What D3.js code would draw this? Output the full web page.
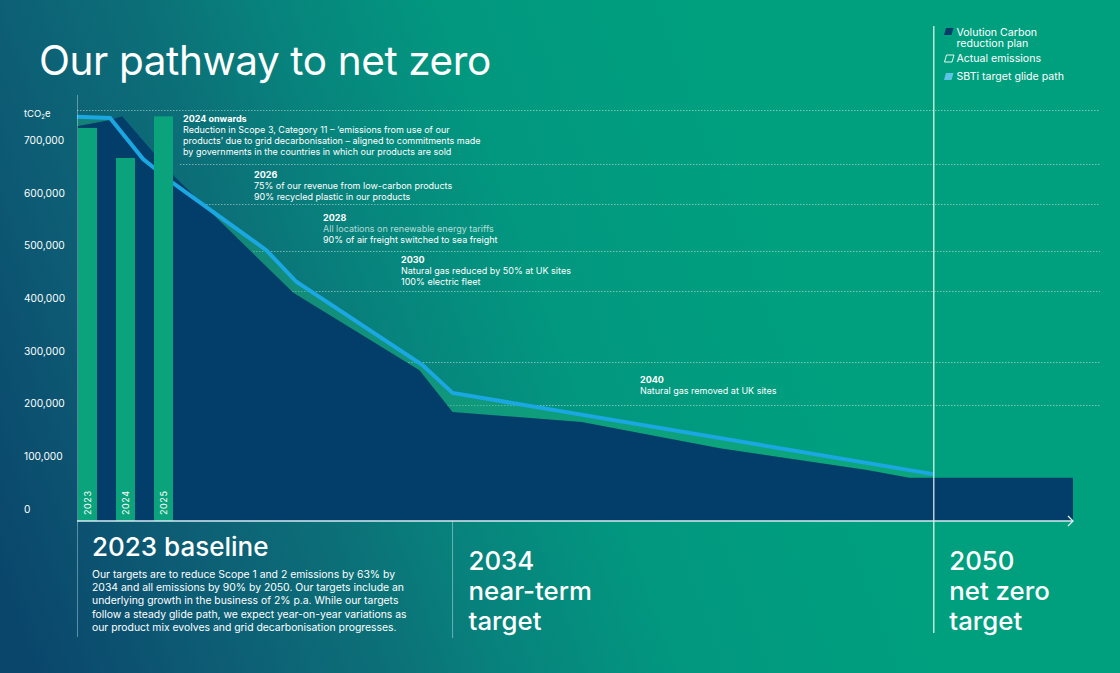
<!DOCTYPE html>
<html><head><meta charset="utf-8">
<script src="https://cdn.jsdelivr.net/npm/d3@7"></script>
<style>
body{margin:0;background:#0a6f78;overflow:hidden;}
svg{display:block;font-family:Inter,"Noto Sans",sans-serif;}
</style>
</head><body>
<svg id="chart" width="1120" height="673"></svg>
<script>
// ---------- DATA ----------
const barYears = ["2023", "2024", "2025"];
const barValues = [746000, 689000, 768000];

const planYears  = [2021.5, 2022.6, 2023.0, 2024.7, 2028.7, 2032.9, 2034.0, 2038.3, 2042.9, 2047.8, 2049.2, 2054.65];
const planValues = [749000, 761000, 768000, 656000, 433000, 286000, 207000, 188000, 138000, 97000, 82000, 82000];

const sbtiYears  = [2021.5, 2022.6, 2023.7, 2024.7, 2027.8, 2028.8, 2033.0, 2034.0, 2050.0];
const sbtiValues = [767000, 765000, 687000, 641000, 514000, 454000, 296000, 243000, 89000];

const yTickValues = [0, 100000, 200000, 300000, 400000, 500000, 600000, 700000];
const yUnitLabel = ["tCO", "2", "e"];

const milestoneYears = [2034, 2050];
const milestoneLabels = [["2034", "near-term", "target"], ["2050", "net zero", "target"]];

const annotationTitles = ["2024 onwards", "2026", "2028", "2030", "2040"];
const annotationLines = [
  ["Reduction in Scope 3, Category 11 – ‘emissions from use of our",
   "products’ due to grid decarbonisation – aligned to commitments made",
   "by governments in the countries in which our products are sold"],
  ["75% of our revenue from low-carbon products",
   "90% recycled plastic in our products"],
  ["All locations on renewable energy tariffs",
   "90% of air freight switched to sea freight"],
  ["Natural gas reduced by 50% at UK sites",
   "100% electric fleet"],
  ["Natural gas removed at UK sites"]
];

const legendLabels = [["Volution Carbon", "reduction plan"], ["Actual emissions"], ["SBTi target glide path"]];

const titleText = "Our pathway to net zero";
const baselineTitle = "2023 baseline";
const baselineLines = [
  "Our targets are to reduce Scope 1 and 2 emissions by 63% by",
  "2034 and all emissions by 90% by 2050. Our targets include an",
  "underlying growth in the business of 2% p.a.  While our targets",
  "follow a steady glide path, we expect year-on-year variations as",
  "our product mix evolves and grid decarbonisation progresses."
];

// ---------- LAYOUT (not data) ----------
const W = 1120, H = 673;
const axisLeft = 77, axisRight = 1073, axisY = 521, topY = 110;
const annX = [183, 254, 323, 401, 640];
const annY = [122, 177.5, 220.5, 263, 382.5];
const sepY = [110, 164, 204, 251, 291, 362, 405];
const sepX0 = [77, 180, 206, 253, 292, 405, 447];
const sepX1 = 1100;

const C = {
  navy: "#023e69", bar: "#0aa37b", line: "#1aa7e2", band: "#22b07a",
  white: "#ffffff"
};

const svg = d3.select("#chart");
const defs = svg.append("defs");
const g = defs.append("linearGradient").attr("id", "bg")
  .attr("gradientUnits", "userSpaceOnUse")
  .attr("x1", 0).attr("y1", 600).attr("x2", 803).attr("y2", 308);
[[0, "#0a456b"], [0.2, "#0d5b74"], [0.4, "#0c7078"], [0.55, "#07857d"], [0.72, "#02977f"], [1, "#00a07f"]]
  .forEach(([o, c]) => g.append("stop").attr("offset", o).attr("stop-color", c));

svg.append("rect").attr("width", W).attr("height", H).attr("fill", "url(#bg)");

// scales
const x = d3.scaleLinear().domain([2021.5, 2054.65]).range([axisLeft, axisRight]);
const y = d3.scaleLinear().domain([0, 780000]).range([axisY, topY]);
const xb = d3.scaleBand().domain(barYears).range([68.5, 182.5]).paddingInner(0.5).paddingOuter(0.25);

const plan = planYears.map((yr, i) => ({ yr, v: planValues[i] }));
const sbti = sbtiYears.map((yr, i) => ({ yr, v: sbtiValues[i] }));

// separators (dotted)
svg.append("g").selectAll("line").data(sepY).join("line")
  .attr("x1", (d, i) => sepX0[i]).attr("x2", sepX1)
  .attr("y1", d => d + 0.5).attr("y2", d => d + 0.5)
  .attr("stroke", "rgba(255,255,255,0.55)").attr("stroke-width", 0.8)
  .attr("stroke-dasharray", "1.5,1.5");

// band under SBTi line
svg.append("path").datum(sbti)
  .attr("d", d3.area().x(d => x(d.yr)).y0(y(0)).y1(d => y(d.v)))
  .attr("fill", C.band).attr("fill-opacity", 0.38);

// plan area
svg.append("path").datum(plan)
  .attr("d", d3.area().x(d => x(d.yr)).y0(y(0)).y1(d => y(d.v)))
  .attr("fill", C.navy);

// SBTi line
svg.append("path").datum(sbti)
  .attr("d", d3.line().x(d => x(d.yr)).y(d => y(d.v)))
  .attr("fill", "none").attr("stroke", C.line).attr("stroke-width", 4)
  .attr("stroke-linejoin", "miter");

// bars
const bars = svg.append("g");
bars.selectAll("rect").data(barYears).join("rect")
  .attr("x", d => xb(d)).attr("width", xb.bandwidth())
  .attr("y", (d, i) => y(barValues[i])).attr("height", (d, i) => y(0) - y(barValues[i]))
  .attr("fill", C.bar);
bars.selectAll("text").data(barYears).join("text")
  .attr("transform", d => `translate(${xb(d) + xb.bandwidth() / 2 + 3},${y(0) - 6}) rotate(-90)`)
  .attr("fill", C.white).attr("font-size", 9).attr("letter-spacing", 0.6)
  .text(d => d);

// y axis line
svg.append("line").attr("x1", axisLeft + 0.5).attr("x2", axisLeft + 0.5).attr("y1", 95).attr("y2", 637)
  .attr("stroke", "rgba(255,255,255,0.35)").attr("stroke-width", 1);

// tick labels
svg.append("g").selectAll("text").data(yTickValues).join("text")
  .attr("x", 24).attr("y", d => y(d) - 11).attr("dominant-baseline", "middle")
  .attr("fill", C.white).attr("font-size", 10.2).text(d3.format(","));
const unit = svg.append("text").attr("x", 24).attr("y", y(780000) + 6.5)
  .attr("fill", C.white).attr("font-size", 9.5);
unit.append("tspan").text(yUnitLabel[0]);
unit.append("tspan").attr("font-size", 6).attr("dy", 2).text(yUnitLabel[1]);
unit.append("tspan").attr("dy", -2).text(yUnitLabel[2]);

// milestone lines
svg.append("line").attr("x1", x(milestoneYears[0])).attr("x2", x(milestoneYears[0]))
  .attr("y1", axisY).attr("y2", 638).attr("stroke", "rgba(255,255,255,0.4)").attr("stroke-width", 1);
svg.append("line").attr("x1", x(milestoneYears[1]) + 0.5).attr("x2", x(milestoneYears[1]) + 0.5)
  .attr("y1", 26).attr("y2", 633).attr("stroke", "rgba(255,255,255,0.85)").attr("stroke-width", 1.3);

// x axis
svg.append("line").attr("x1", axisLeft).attr("x2", axisRight).attr("y1", axisY).attr("y2", axisY)
  .attr("stroke", "#d6ebf2").attr("stroke-width", 1.5);
svg.append("path").attr("d", `M${axisRight - 5},${axisY - 5}L${axisRight},${axisY}L${axisRight - 5},${axisY + 5}`)
  .attr("fill", "none").attr("stroke", "#eaf6f6").attr("stroke-width", 1.3);

// title
svg.append("text").attr("x", 39).attr("y", 75).attr("fill", C.white)
  .attr("font-size", 40.5).attr("font-weight", 400).attr("letter-spacing", -0.4).text(titleText);

// annotations
annotationTitles.forEach((t, i) => {
  const a = svg.append("text").attr("fill", C.white).attr("font-size", 9);
  a.append("tspan").attr("x", annX[i]).attr("y", annY[i]).attr("font-weight", 700).text(t);
  annotationLines[i].forEach((l, j) => {
    a.append("tspan").attr("x", annX[i]).attr("y", annY[i] + 11 * (j + 1))
      .attr("fill-opacity", (i === 2 && j === 0) ? 0.7 : 1).text(l);
  });
});

// baseline block
svg.append("text").attr("x", 92).attr("y", 556).attr("fill", C.white)
  .attr("font-size", 26).attr("font-weight", 500).text(baselineTitle);
const bt = svg.append("text").attr("fill", C.white).attr("font-size", 10.4);
baselineLines.forEach((l, j) => bt.append("tspan").attr("x", 92).attr("y", 577.5 + 13.4 * j).text(l));

// milestone labels
milestoneLabels.forEach((lines, i) => {
  const t = svg.append("text").attr("fill", C.white).attr("font-size", 25.8).attr("font-weight", 500);
  lines.forEach((l, j) => t.append("tspan").attr("x", x(milestoneYears[i]) + 16).attr("y", 570 + 30 * j).text(l));
});

// legend
const lg = svg.append("g");
const iconY = [28, 55, 73];
const para = (x0, y0) => `M${x0 + 2},${y0}L${x0 + 9.5},${y0}L${x0 + 7.5},${y0 + 7}L${x0},${y0 + 7}Z`;
lg.append("path").attr("d", para(944, iconY[0])).attr("fill", C.navy);
lg.append("path").attr("d", para(944.5, iconY[1])).attr("fill", "none").attr("stroke", C.white).attr("stroke-width", 0.9);
lg.append("path").attr("d", para(944, iconY[2])).attr("fill", "#5cc5e6");
const legY = [35.5, 61.5, 80];
legendLabels.forEach((lines, i) => {
  const t = lg.append("text").attr("fill", C.white).attr("font-size", 10.6);
  lines.forEach((l, j) => t.append("tspan").attr("x", 956.5).attr("y", legY[i] + 11.2 * j).text(l));
});
</script>
</body></html>
